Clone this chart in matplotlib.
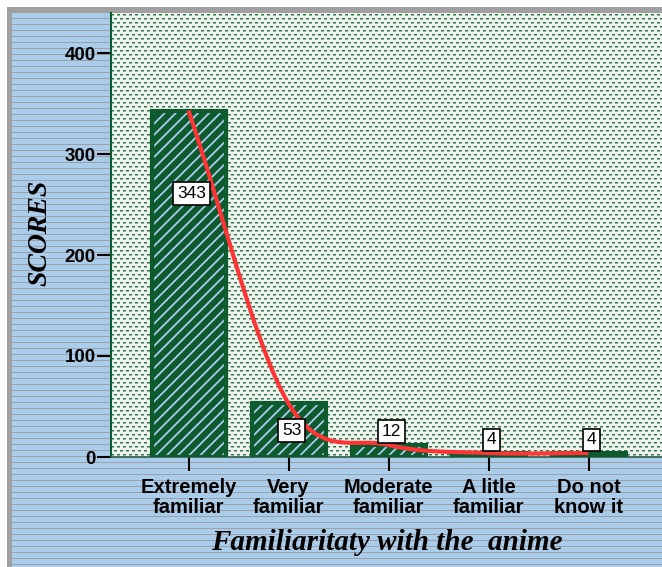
import numpy as np
import matplotlib
matplotlib.use("Agg")
import matplotlib.pyplot as plt

# data
categories = ["Extremely\nfamiliar", "Very\nfamiliar", "Moderate\nfamiliar",
              "A litle\nfamiliar", "Do not\nknow it"]
scores = [343, 53, 12, 4, 4]
yticks = [0, 100, 200, 300, 400]

W, H = 662, 567
DARK_GREEN = "#0d5a2e"
LIGHT_BLUE = "#aacdee"
RED = "#ff3535"


def catmull_rom(y, n=60):
    # smooth curve through the points (like a "smoothed line" in spreadsheets)
    y = np.asarray(y, float)
    m = np.empty_like(y)
    m[1:-1] = (y[2:] - y[:-2]) / 2
    m[0] = y[1] - y[0]
    m[-1] = y[-1] - y[-2]
    xs, ys = [], []
    t = np.linspace(0, 1, n)
    h00 = 2 * t**3 - 3 * t**2 + 1
    h10 = t**3 - 2 * t**2 + t
    h01 = -2 * t**3 + 3 * t**2
    h11 = t**3 - t**2
    for i in range(len(y) - 1):
        xs.append(i + t)
        ys.append(h00 * y[i] + h10 * m[i] + h01 * y[i + 1] + h11 * m[i + 1])
    return np.concatenate(xs), np.concatenate(ys)


fig = plt.figure(figsize=(W / 100, H / 100), dpi=100)

# striped background with grey frame on the left and top
bg = np.ones((H, W, 3))
bg[12:, 12:] = np.array([170, 205, 236]) / 255
bg[12::6, 12:] = np.array([158, 160, 165]) / 255
bg[7:12, 7:] = 0.63
bg[7:, 7:12] = 0.63
fig.figimage(bg, xo=0, yo=0, zorder=-2, origin="upper")

# plot area: left / top / bottom in pixels
ax_l, ax_t, ax_b = 111, 13, 457
ph, pw = ax_b - ax_t, W - ax_l
dots = np.ones((ph, pw, 3)) * np.array([240, 243, 238]) / 255
dot_col = np.array([40, 120, 72]) / 255
for r in range(1, ph, 4):
    shift = 0 if (r // 4) % 2 == 0 else 3
    for c0 in range(shift, pw, 6):
        dots[r, c0:c0 + 3] = dot_col
        dots[r + 1:r + 2, c0:c0 + 3] = 0.5 * dot_col + 0.5 * dots[0, 0]
fig.figimage(dots, xo=ax_l, yo=H - ax_b, zorder=-1, origin="upper")

ax = fig.add_axes([ax_l / W, (H - ax_b) / H, pw / W, ph / H])
ax.set_facecolor("none")

x = np.arange(len(categories))
bw = 0.74
plt.rcParams["hatch.linewidth"] = 1.3
ax.bar(x, scores, width=bw, color=DARK_GREEN, linewidth=0, zorder=2)
ax.bar(x, scores, width=bw, facecolor="none", edgecolor=LIGHT_BLUE,
       hatch="///", linewidth=0, zorder=3)
ax.bar(x, scores, width=bw, facecolor="none", edgecolor=DARK_GREEN,
       linewidth=3, zorder=4)

cx, cy = catmull_rom(scores)
ax.plot(cx, cy, color=RED, lw=3, zorder=5, solid_capstyle="butt")

for xi, v in zip(x, scores):
    if v > 100:
        ly = v * 0.76
    elif v > 20:
        ly = v / 2
    else:
        ly = v + 13
    ax.text(xi + 0.03, ly, str(v), ha="center", va="center", fontsize=12.5,
            family="Liberation Sans", zorder=6,
            bbox=dict(boxstyle="square,pad=0.22", fc="white", ec="black", lw=1.2))

ax.set_xlim(-0.775, (W - ax_l) / 100 - 0.775)
ax.set_ylim(0, ph / 1.01)
ax.set_yticks(yticks)
ax.set_xticks(x)
ax.set_xticklabels(categories, fontsize=14.5, fontweight="bold",
                   family="Liberation Sans", linespacing=1.05)
ax.set_yticklabels([str(t) for t in yticks], fontsize=13.5, fontweight="bold",
                   family="Liberation Sans")
ax.tick_params(axis="y", length=10, width=1.5, pad=1, color="black")
ax.tick_params(axis="x", length=10, width=1.5, pad=5, color="black")

for s in ["top", "right"]:
    ax.spines[s].set_visible(False)
ax.spines["left"].set_color(DARK_GREEN)
ax.spines["left"].set_linewidth(1.5)
ax.spines["bottom"].set_color("#2f5a44")
ax.spines["bottom"].set_linewidth(1.2)

fig.text(40 / W, 1 - 233 / H, "SCORES", rotation=90, ha="center", va="center",
         fontsize=20, fontweight="bold", style="italic", family="Liberation Serif")
fig.text(387 / W, 1 - 542 / H, "Familiaritaty with the  anime", ha="center",
         va="center", fontsize=21, fontweight="bold", style="italic",
         family="Liberation Serif")

fig.savefig("out.png", dpi=100)
